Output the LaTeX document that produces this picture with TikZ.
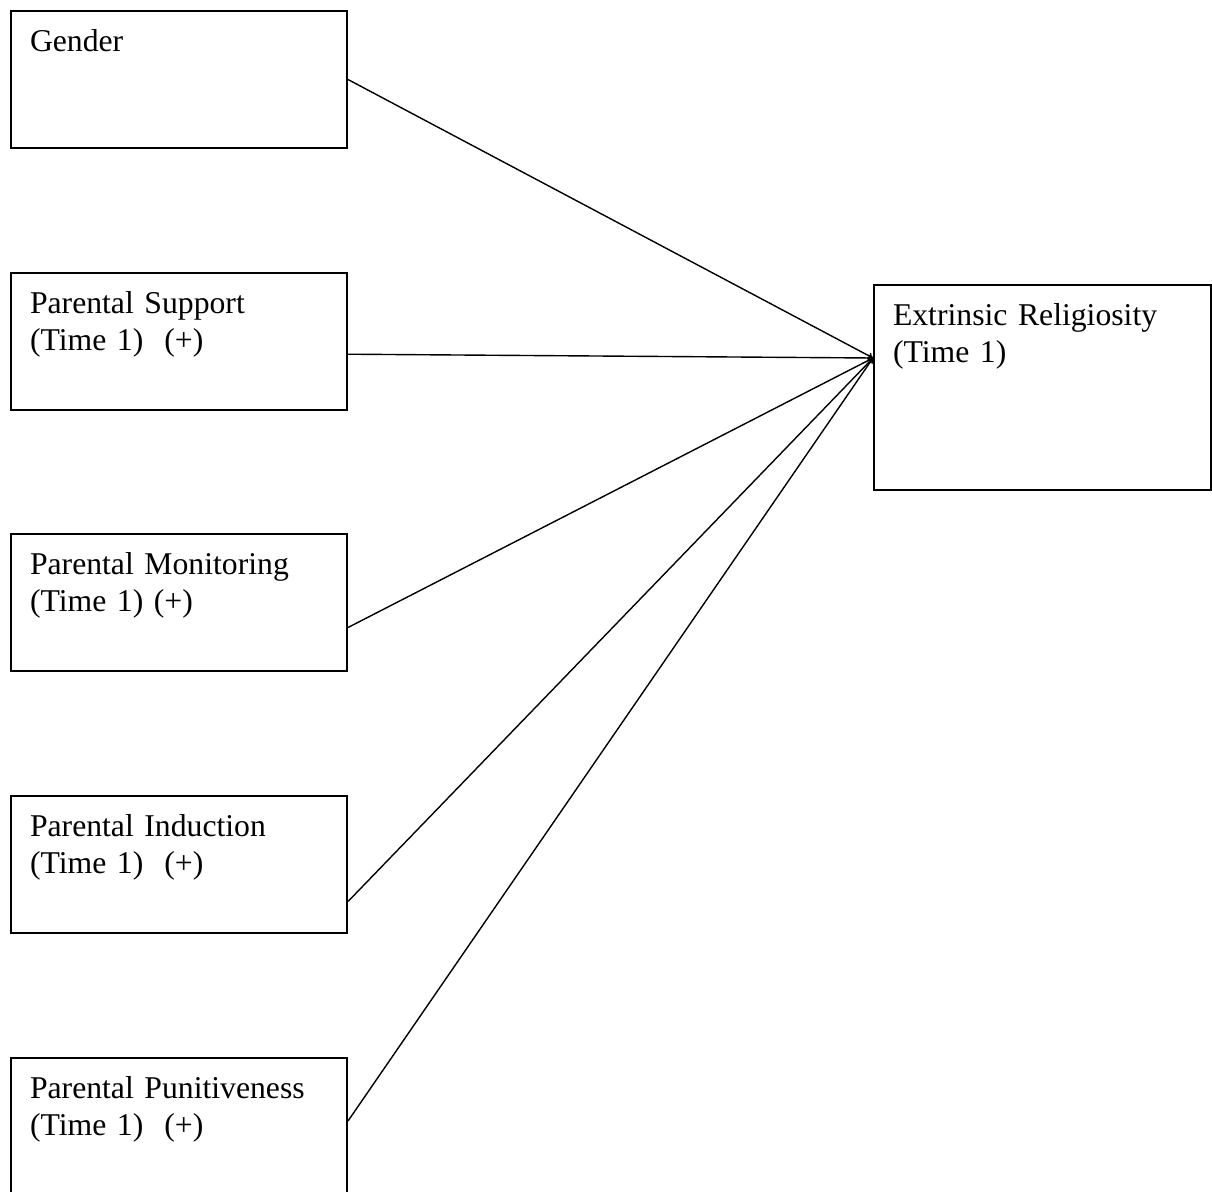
\documentclass[tikz,border=0pt]{standalone}
\usepackage{fontspec}
\setmainfont{Liberation Serif}
\usetikzlibrary{arrows.meta}
\tikzset{
  factor/.style={draw, line width=2pt, anchor=north west, align=left,
    inner xsep=19pt, inner ysep=14pt, text width=298pt,
    text height=26pt, text depth=83pt,
    font=\fontsize{31.7}{37}\selectfont},
  outcome/.style={factor, text width=299pt, text depth=151pt},
  path/.style={line width=1.4pt, -{To[length=5pt,width=7pt]}}
}
\begin{document}
\begin{tikzpicture}[x=1pt,y=-1pt]
      \useasboundingbox (0,0) rectangle (1212,1191);
      \draw
        (10,10) node[factor] (gender){Gender}
        (10,272) node[factor] (support){Parental Support\\(Time 1)\ \ (+)}
        (10,533) node[factor] (monitor){Parental Monitoring\\(Time 1) (+)}
        (10,795) node[factor] (induct){Parental Induction\\(Time 1)\ \ (+)}
        (10,1057) node[factor] (punish){Parental Punitiveness\\(Time 1)\ \ (+)}
        (873,284) node[outcome] (extrinsic){Extrinsic Religiosity\\(Time 1)};
      \coordinate (hub) at ([yshift=29.5pt]extrinsic.west);
      \begin{scope}[path]
        \draw (gender.east) to (hub);
        \draw ([yshift=-12.7pt]support.east) to (hub);
        \draw ([yshift=-25pt]monitor.east) to (hub);
        \draw ([yshift=-37pt]induct.east) to (hub);
        \draw ([yshift=5.5pt]punish.east) to (hub);
      \end{scope}
    \end{tikzpicture}
\end{document}
